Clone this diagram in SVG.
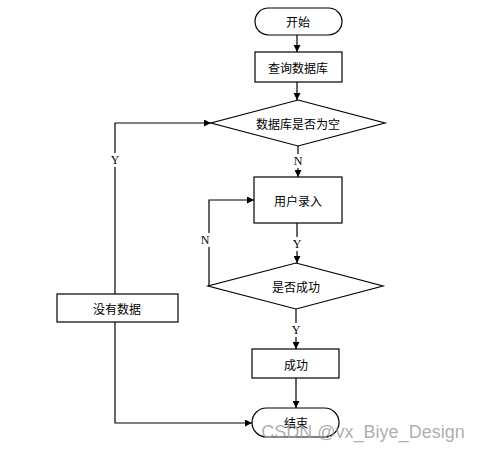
<svg xmlns="http://www.w3.org/2000/svg" width="482" height="450" viewBox="0 0 482 450">
<style>
.s{fill:#fff;stroke:#000;stroke-width:1.2}
.t{font-family:"Noto Sans CJK SC","Liberation Sans",sans-serif;font-size:12px;fill:#000;text-anchor:middle;dominant-baseline:central}
.l{font-family:"Liberation Serif",serif;font-size:12px;fill:#000;text-anchor:middle;dominant-baseline:central}
.c{fill:none;stroke:#000;stroke-width:1.2}
</style>
<defs>
<marker id="a" viewBox="0 0 10 10" refX="10" refY="5" markerWidth="7" markerHeight="7" markerUnits="userSpaceOnUse" orient="auto">
<path d="M0,0L10,5L0,10z" fill="#000"/>
</marker>
</defs>
<rect width="482" height="450" fill="#fff"/>
<g id="connectors">
<path class="c" d="M297,35V52" marker-end="url(#a)"/>
<path class="c" d="M297,82V100" marker-end="url(#a)"/>
<path class="c" d="M298,146V177" marker-end="url(#a)"/>
<path class="c" d="M297,223V263" marker-end="url(#a)"/>
<path class="c" d="M208,286H209V200H254" marker-end="url(#a)"/>
<path class="c" d="M296,309V349" marker-end="url(#a)"/>
<path class="c" d="M296,378V408" marker-end="url(#a)"/>
<path class="c" d="M115,294V123H211" marker-end="url(#a)"/>
<path class="c" d="M115,322V423H252" marker-end="url(#a)"/>
<rect x="290" y="154" width="14" height="14" fill="#fff"/>
<text class="l" x="298" y="161">N</text>
<rect x="108" y="153" width="14" height="14" fill="#fff"/>
<text class="l" x="115" y="160">Y</text>
<rect x="198" y="233" width="14" height="14" fill="#fff"/>
<text class="l" x="205" y="240">N</text>
<rect x="290" y="237" width="14" height="14" fill="#fff"/>
<text class="l" x="297" y="244">Y</text>
<rect x="289" y="323" width="14" height="14" fill="#fff"/>
<text class="l" x="296" y="330">Y</text>
</g>
<g id="start">
<rect class="s" x="255" y="8" width="87" height="27" rx="13.5"/>
<text class="t" x="298" y="21.5">开始</text>
</g>
<g id="query">
<rect class="s" x="255" y="52" width="87" height="30"/>
<text class="t" x="298" y="67">查询数据库</text>
</g>
<g id="isEmpty">
<polygon class="s" points="298,100 385,123 298,146 211,123"/>
<text class="t" x="298" y="123">数据库是否为空</text>
</g>
<g id="input">
<rect class="s" x="254" y="177" width="88" height="46"/>
<text class="t" x="298" y="200">用户录入</text>
</g>
<g id="isSuccess">
<polygon class="s" points="296,263 383,286 296,309 208,286"/>
<text class="t" x="296" y="286">是否成功</text>
</g>
<g id="success">
<rect class="s" x="252" y="349" width="87" height="29"/>
<text class="t" x="296" y="364">成功</text>
</g>
<g id="noData">
<rect class="s" x="57" y="294" width="121" height="28"/>
<text class="t" x="117" y="308">没有数据</text>
</g>
<g id="end">
<rect class="s" x="252" y="408" width="87" height="29" rx="14.5"/>
<text class="t" x="296" y="422.5">结束</text>
</g>
<text x="363" y="438" font-family="Liberation Sans,sans-serif" font-size="18" fill="#999" fill-opacity="0.8" text-anchor="middle">CSDN @vx_Biye_Design</text>
</svg>
